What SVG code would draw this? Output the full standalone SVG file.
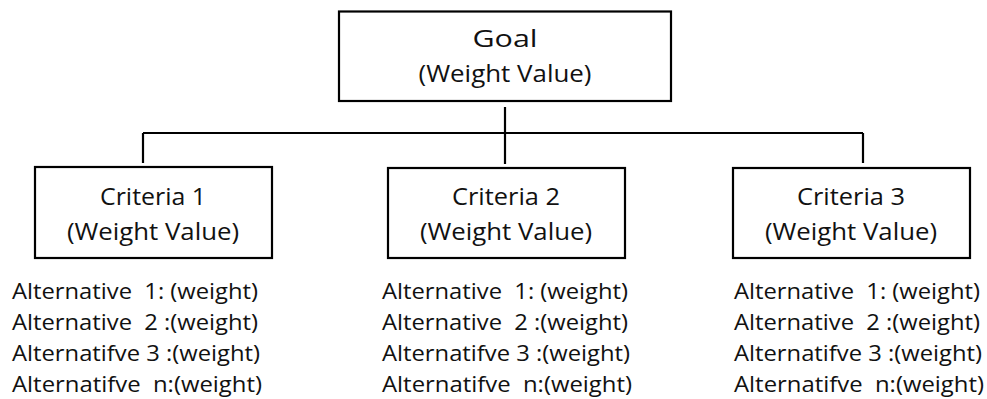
<svg xmlns="http://www.w3.org/2000/svg" width="987" height="399" viewBox="0 0 987 399">
<style>
.box{fill:#fff;stroke:#000;stroke-width:2.2}
.ln{fill:none;stroke:#000;stroke-width:2.2}
text{font-family:"Open Sans","Noto Sans","Liberation Sans",sans-serif;fill:#111;white-space:pre}
.t{font-size:24px;text-anchor:middle}
.a{font-size:22px}
</style>
<rect width="987" height="399" fill="#fff"/>
<g id="connectors">
<line class="ln" x1="143" y1="133" x2="863" y2="133"/>
<line class="ln" x1="505" y1="107" x2="505" y2="164"/>
<line class="ln" x1="143" y1="133" x2="143" y2="163"/>
<line class="ln" x1="863" y1="133" x2="863" y2="163"/>
</g>
<g id="goal">
<rect class="box" x="339" y="11.5" width="332" height="89.5"/>
<text class="t" x="505" y="47" textLength="65" lengthAdjust="spacingAndGlyphs">Goal</text>
<text class="t" x="505" y="82" textLength="173" lengthAdjust="spacingAndGlyphs">(Weight Value)</text>
</g>
<g id="criteria1">
<rect class="box" x="35" y="167" width="237" height="91"/>
<text class="t" x="153" y="205" textLength="106" lengthAdjust="spacingAndGlyphs">Criteria 1</text>
<text class="t" x="153" y="240" textLength="172" lengthAdjust="spacingAndGlyphs">(Weight Value)</text>
</g>
<g id="criteria2">
<rect class="box" x="388" y="168" width="237" height="90"/>
<text class="t" x="506" y="205" textLength="108" lengthAdjust="spacingAndGlyphs">Criteria 2</text>
<text class="t" x="506" y="240" textLength="172" lengthAdjust="spacingAndGlyphs">(Weight Value)</text>
</g>
<g id="criteria3">
<rect class="box" x="733" y="168" width="237" height="90"/>
<text class="t" x="851" y="205" textLength="108" lengthAdjust="spacingAndGlyphs">Criteria 3</text>
<text class="t" x="851" y="240" textLength="172" lengthAdjust="spacingAndGlyphs">(Weight Value)</text>
</g>
<g id="alternatives1">
<text class="a" x="12" y="299" textLength="246" lengthAdjust="spacingAndGlyphs">Alternative  1: (weight)</text>
<text class="a" x="12" y="330" textLength="246" lengthAdjust="spacingAndGlyphs">Alternative  2 :(weight)</text>
<text class="a" x="12" y="361" textLength="248" lengthAdjust="spacingAndGlyphs">Alternatifve 3 :(weight)</text>
<text class="a" x="12" y="392" textLength="250" lengthAdjust="spacingAndGlyphs">Alternatifve  n:(weight)</text>
</g>
<g id="alternatives2">
<text class="a" x="382" y="299" textLength="246" lengthAdjust="spacingAndGlyphs">Alternative  1: (weight)</text>
<text class="a" x="382" y="330" textLength="246" lengthAdjust="spacingAndGlyphs">Alternative  2 :(weight)</text>
<text class="a" x="382" y="361" textLength="248" lengthAdjust="spacingAndGlyphs">Alternatifve 3 :(weight)</text>
<text class="a" x="382" y="392" textLength="250" lengthAdjust="spacingAndGlyphs">Alternatifve  n:(weight)</text>
</g>
<g id="alternatives3">
<text class="a" x="734" y="299" textLength="246" lengthAdjust="spacingAndGlyphs">Alternative  1: (weight)</text>
<text class="a" x="734" y="330" textLength="246" lengthAdjust="spacingAndGlyphs">Alternative  2 :(weight)</text>
<text class="a" x="734" y="361" textLength="248" lengthAdjust="spacingAndGlyphs">Alternatifve 3 :(weight)</text>
<text class="a" x="734" y="392" textLength="250" lengthAdjust="spacingAndGlyphs">Alternatifve  n:(weight)</text>
</g>
</svg>
